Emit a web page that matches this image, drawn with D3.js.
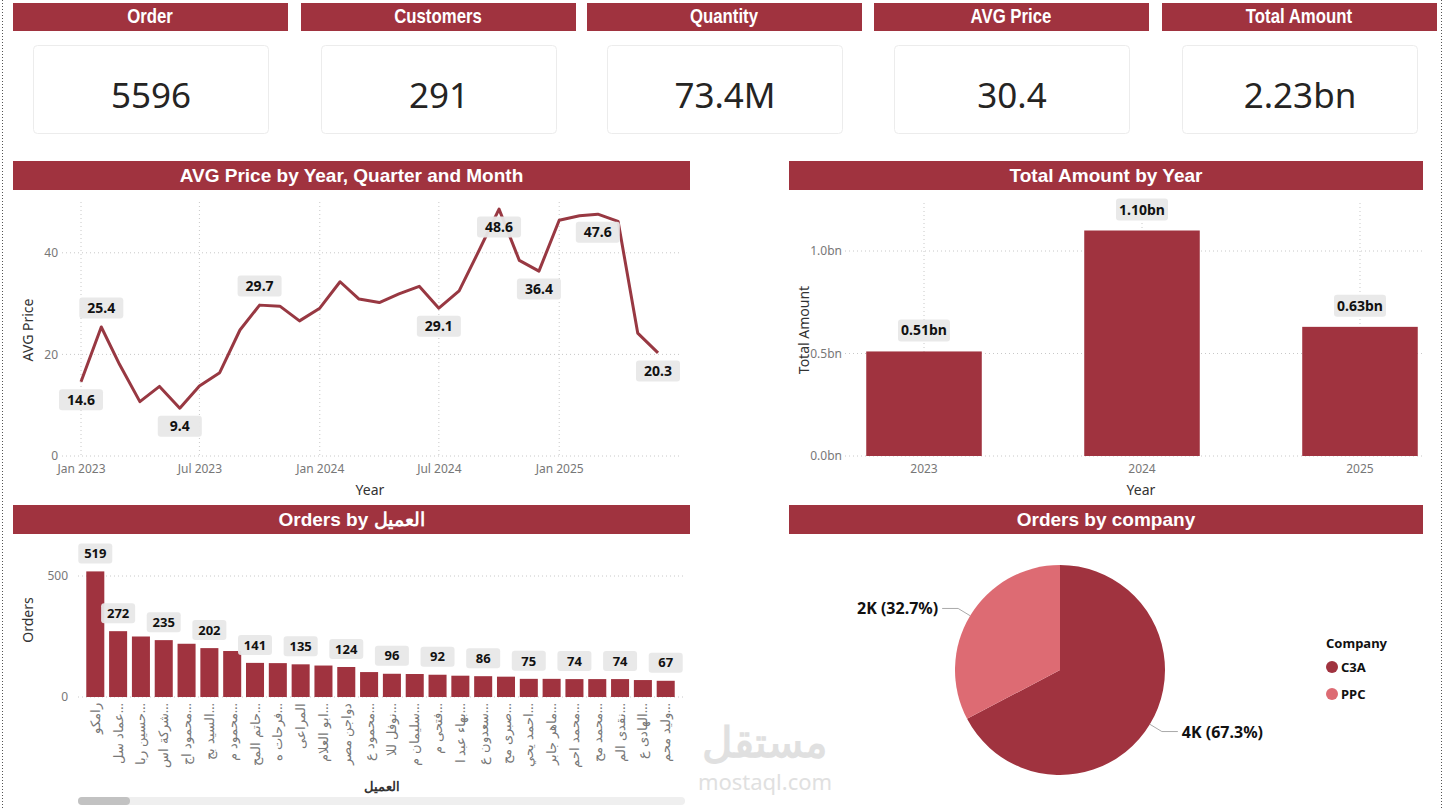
<!DOCTYPE html>
<html>
<head>
<meta charset="utf-8">
<script src="https://cdn.jsdelivr.net/npm/d3@7"></script>
<style>
  body { margin: 0; background: #fff; }
  svg { display: block; font-family: "Noto Sans", "Open Sans", sans-serif; }
</style>
</head>
<body>
<svg id="dash" width="1450" height="810"></svg>
<script>
// ---- data ----
const kpiTitles = ["Order", "Customers", "Quantity", "AVG Price", "Total Amount"];
const kpiValues = ["5596", "291", "73.4M", "30.4", "2.23bn"];

// monthly avg price, Jan 2023 .. Jun 2025
const avgPrice = [14.6, 25.4, 18.0, 10.7, 13.7, 9.4, 13.8, 16.4, 24.8, 29.7, 29.5, 26.6,
                  29.1, 34.3, 30.9, 30.2, 31.9, 33.4, 29.1, 32.5, 40.6, 48.6, 38.5, 36.4,
                  46.4, 47.3, 47.6, 46.2, 24.2, 20.3];
const priceLabelIdx = [0, 1, 5, 9, 18, 21, 23, 26, 29];
const priceLabelAbove = [1, 9];
const priceTicks = ["2023-01", "2023-07", "2024-01", "2024-07", "2025-01"];

const years = ["2023", "2024", "2025"];
const totalAmount = [0.51, 1.10, 0.63]; // bn

const customers = ["رامكو", "عماد سل…", "حسين ربا…", "شركة اس…", "محمود اج…", "السيد بج…",
  "محمود م…", "حاتم المح…", "فرحات ه…", "المراعى", "ابو العلام…", "دواجن مصر",
  "محمود ع…", "نوفل للا…", "سليمان م…", "فتحى م…", "بهاء عبد ا…", "سعدون ع…",
  "صبرى مح…", "احمد يحي…", "ماهر جابر…", "محمد احم…", "محمد مح…", "نقدى الم…",
  "الهادى ع…", "وليد محم…"];
const customerOrders = [519, 272, 250, 235, 220, 202, 190, 141, 140, 135, 130, 124,
  103, 96, 95, 92, 88, 86, 84, 75, 75, 74, 74, 74, 70, 67];
const companies = ["C3A", "PPC"];
const companyOrders = [3766, 1830];
const companyLabels = ["4K (67.3%)", "2K (32.7%)"];

// ---- style ----
const RED = "#a0333f";
const LINE = "#983842";
const PINK = "#dd6b73";
const TICK = "#777";
const svg = d3.select("#dash");

// page frame (dotted)
svg.append("line").attr("x1", 2.5).attr("x2", 2.5).attr("y1", 0).attr("y2", 810)
  .attr("stroke", "#555").attr("stroke-dasharray", "1,2");
svg.append("line").attr("x1", 1441.5).attr("x2", 1441.5).attr("y1", 0).attr("y2", 810)
  .attr("stroke", "#555").attr("stroke-dasharray", "1,2");

// ---- KPI row ----
const headX = [13, 301, 587, 874, 1162];
const cardX = [33, 321, 607, 894, 1182];
kpiTitles.forEach((t, i) => {
  svg.append("rect").attr("x", headX[i]).attr("y", 3).attr("width", 275).attr("height", 28)
    .attr("fill", RED);
  svg.append("text").attr("transform", `translate(${headX[i] + 137},23) scale(0.84,1)`)
    .attr("text-anchor", "middle")
    .attr("fill", "#fff").attr("font-weight", "bold").attr("font-size", "20px")
    .style("font-family", "'Liberation Sans', Arial, sans-serif")
    .text(t);
  svg.append("rect").attr("x", cardX[i] + 0.5).attr("y", 45.5).attr("width", 235).attr("height", 88)
    .attr("rx", 4).attr("fill", "#fff").attr("stroke", "#ececec");
  svg.append("text").attr("x", cardX[i] + 118).attr("y", 108).attr("text-anchor", "middle")
    .attr("fill", "#252423").attr("font-size", "35px").text(kpiValues[i]);
});

function titleBar(x, y, w, text) {
  svg.append("rect").attr("x", x).attr("y", y).attr("width", w).attr("height", 29).attr("fill", RED);
  svg.append("text").attr("x", x + w / 2).attr("y", y + 21).attr("text-anchor", "middle")
    .attr("fill", "#fff").attr("font-weight", "bold").attr("font-size", "19px")
    .style("font-family", "'Liberation Sans', Arial, sans-serif").text(text);
}

function labelBox(g, x, y, text, w, h, fs) {
  g.append("rect").attr("x", x - w / 2).attr("y", y - h / 2).attr("width", w).attr("height", h)
    .attr("rx", 3).attr("fill", "#e8e8e8").attr("opacity", 0.95);
  g.append("text").attr("x", x).attr("y", y + fs * 0.36).attr("text-anchor", "middle")
    .attr("font-weight", "bold").attr("font-size", fs + "px").attr("fill", "#111").text(text);
}

function styleAxis(g) {
  g.select(".domain").remove();
  g.selectAll(".tick line").remove();
  g.selectAll(".tick text").attr("fill", TICK).attr("font-size", "12px")
    .style("font-family", "'Noto Sans', sans-serif");
}

// ---- AVG Price line chart ----
titleBar(13, 161, 677, "AVG Price by Year, Quarter and Month");
const months = d3.timeMonth.range(new Date(2023, 0, 1), new Date(2023, 0 + avgPrice.length, 1));
const xT = d3.scaleTime().domain([months[0], months[months.length - 1]]).range([81, 658]);
const yP = d3.scaleLinear().domain([0, 50]).range([456, 202]);
const parseM = d3.timeParse("%Y-%m");
const tickDates = priceTicks.map(parseM);

const gl = svg.append("g");
gl.selectAll(".hg").data([0, 20, 40]).join("line")
  .attr("x1", 62).attr("x2", 680).attr("y1", d => yP(d)).attr("y2", d => yP(d))
  .attr("stroke", "#c8c8c8").attr("stroke-dasharray", "1,3");
gl.selectAll(".vg").data(tickDates).join("line")
  .attr("x1", d => xT(d)).attr("x2", d => xT(d)).attr("y1", 202).attr("y2", 456)
  .attr("stroke", "#c8c8c8").attr("stroke-dasharray", "1,3");

svg.append("g").attr("transform", "translate(62,0)")
  .call(d3.axisLeft(yP).tickValues([0, 20, 40]).tickSize(0).tickPadding(4)).call(styleAxis);
svg.append("g").attr("transform", "translate(0,460)")
  .call(d3.axisBottom(xT).tickValues(tickDates).tickFormat(d3.timeFormat("%b %Y")).tickSize(0).tickPadding(4))
  .call(styleAxis);

svg.append("path").datum(avgPrice)
  .attr("fill", "none").attr("stroke", LINE).attr("stroke-width", 3).attr("stroke-linejoin", "round")
  .attr("d", d3.line().x((d, i) => xT(months[i])).y(d => yP(d)));

const plab = svg.append("g");
priceLabelIdx.forEach(i => {
  const up = priceLabelAbove.includes(i);
  labelBox(plab, xT(months[i]), yP(avgPrice[i]) + (up ? -19 : 18), avgPrice[i].toFixed(1), 44, 21, 14);
});

svg.append("text").attr("transform", "translate(33,330) rotate(-90)").attr("text-anchor", "middle")
  .attr("font-size", "14px").attr("fill", "#333").text("AVG Price");
svg.append("text").attr("x", 370).attr("y", 495).attr("text-anchor", "middle")
  .attr("font-size", "14px").attr("fill", "#333").text("Year");

// ---- Total Amount by Year ----
titleBar(789, 161, 634, "Total Amount by Year");
const xY = d3.scaleBand().domain(years).range([856, 1428]).paddingInner(0.47).paddingOuter(0.047);
const yA = d3.scaleLinear().domain([0, 1.2]).range([456, 210]);
const ga = svg.append("g");
ga.selectAll(".hg").data([0, 0.5, 1.0]).join("line")
  .attr("x1", 845).attr("x2", 1425).attr("y1", d => yA(d)).attr("y2", d => yA(d))
  .attr("stroke", "#c8c8c8").attr("stroke-dasharray", "1,3");
ga.selectAll(".vg").data(years).join("line")
  .attr("x1", d => xY(d) + xY.bandwidth() / 2).attr("x2", d => xY(d) + xY.bandwidth() / 2)
  .attr("y1", 203).attr("y2", 456).attr("stroke", "#c8c8c8").attr("stroke-dasharray", "1,3");
ga.selectAll(".bar").data(years).join("rect")
  .attr("x", d => xY(d)).attr("width", xY.bandwidth())
  .attr("y", (d, i) => yA(totalAmount[i])).attr("height", (d, i) => yA(0) - yA(totalAmount[i]))
  .attr("fill", RED);
years.forEach((y, i) => {
  labelBox(ga, xY(y) + xY.bandwidth() / 2, yA(totalAmount[i]) - 21, totalAmount[i].toFixed(2) + "bn", 52, 22, 14);
});
svg.append("g").attr("transform", "translate(842,0)")
  .call(d3.axisLeft(yA).tickValues([0, 0.5, 1.0]).tickFormat(d => d.toFixed(1) + "bn").tickSize(0).tickPadding(0))
  .call(styleAxis);
svg.append("g").attr("transform", "translate(0,460)")
  .call(d3.axisBottom(xY).tickSize(0).tickPadding(4)).call(styleAxis);
svg.append("text").attr("transform", "translate(809,330) rotate(-90)").attr("text-anchor", "middle")
  .attr("font-size", "14px").attr("fill", "#333").text("Total Amount");
svg.append("text").attr("x", 1141).attr("y", 495).attr("text-anchor", "middle")
  .attr("font-size", "14px").attr("fill", "#333").text("Year");

// ---- Orders by customer ----
titleBar(13, 505, 677, "Orders by العميل");
const xC = d3.scaleBand().domain(customers).range([84, 677]).paddingInner(0.21).paddingOuter(0.1);
const yC = d3.scaleLinear().domain([0, 500]).range([697, 576]);
const gc = svg.append("g");
gc.selectAll(".hg").data([0, 500]).join("line")
  .attr("x1", 78).attr("x2", 685).attr("y1", d => yC(d)).attr("y2", d => yC(d))
  .attr("stroke", "#c8c8c8").attr("stroke-dasharray", "1,3");
gc.selectAll(".bar").data(customers).join("rect")
  .attr("x", d => xC(d)).attr("width", xC.bandwidth())
  .attr("y", (d, i) => yC(customerOrders[i])).attr("height", (d, i) => yC(0) - yC(customerOrders[i]))
  .attr("fill", RED);
customers.forEach((c, i) => {
  if (i === 0 || i % 2 === 1) {
    labelBox(gc, xC(c) + xC.bandwidth() / 2, yC(customerOrders[i]) - 18, String(customerOrders[i]), 34, 20, 13);
  }
});
svg.append("g").attr("transform", "translate(68,0)")
  .call(d3.axisLeft(yC).tickValues([0, 500]).tickSize(0).tickPadding(0)).call(styleAxis);
const cax = svg.append("g").attr("transform", "translate(0,703)")
  .call(d3.axisBottom(xC).tickSize(0).tickPadding(0)).call(styleAxis);
cax.selectAll(".tick text").attr("font-size", "13px")
  .attr("text-anchor", "end").attr("transform", "rotate(-90)").attr("x", 0).attr("y", 0).attr("dy", "0.35em");
svg.append("text").attr("transform", "translate(33,620) rotate(-90)").attr("text-anchor", "middle")
  .attr("font-size", "14px").attr("fill", "#333").text("Orders");
svg.append("text").attr("x", 382).attr("y", 791).attr("text-anchor", "middle")
  .attr("font-size", "13px").attr("font-weight", "bold").attr("fill", "#333").text("العميل");
// scrollbar
svg.append("rect").attr("x", 78).attr("y", 797).attr("width", 607).attr("height", 8).attr("rx", 4).attr("fill", "#efefef");
svg.append("rect").attr("x", 78).attr("y", 797).attr("width", 52).attr("height", 8).attr("rx", 4).attr("fill", "#c2c2c2");

// ---- Orders by company (pie) ----
titleBar(789, 505, 634, "Orders by company");
const pieColor = d3.scaleOrdinal().domain(companies).range([RED, PINK]);
const pie = d3.pie().sort(null).value((d, i) => companyOrders[i]);
const arcs = pie(companies);
const R = 105;
const arc = d3.arc().innerRadius(0).outerRadius(R);
const gp = svg.append("g").attr("transform", "translate(1060,670)");
gp.selectAll("path").data(arcs).join("path").attr("d", arc).attr("fill", d => pieColor(d.data));
arcs.forEach((a, i) => {
  const m = (a.startAngle + a.endAngle) / 2;
  const sx = Math.sin(m), sy = -Math.cos(m);
  const p0 = [sx * R, sy * R];
  const p1 = [sx * (R + 14), sy * (R + 14)];
  const right = sx > 0;
  const p2 = [p1[0] + (right ? 16 : -16), p1[1]];
  gp.append("polyline").attr("points", [p0, p1, p2].map(p => p.join(",")).join(" "))
    .attr("fill", "none").attr("stroke", "#aaa").attr("stroke-width", 1);
  gp.append("text").attr("x", p2[0] + (right ? 4 : -4)).attr("y", p2[1] + 6)
    .attr("text-anchor", right ? "start" : "end").attr("font-weight", "bold").attr("font-size", "16px")
    .attr("fill", "#111").text(companyLabels[i]);
});
svg.append("text").attr("x", 1326).attr("y", 648).attr("font-weight", "bold").attr("font-size", "13px")
  .attr("fill", "#111").text("Company");
companies.forEach((c, i) => {
  svg.append("circle").attr("cx", 1332).attr("cy", 667 + i * 27).attr("r", 6).attr("fill", pieColor(c));
  svg.append("text").attr("x", 1341).attr("y", 672 + i * 27).attr("font-weight", "bold")
    .attr("font-size", "13px").attr("fill", "#111").text(c);
});

// watermark
svg.append("text").attr("x", 765).attr("y", 757).attr("text-anchor", "middle").attr("font-size", "42px")
  .attr("font-weight", "bold").attr("fill", "#d9d9d9").attr("opacity", 0.8).text("مستقل");
svg.append("text").attr("x", 765).attr("y", 790).attr("text-anchor", "middle").attr("font-size", "22px")
  .attr("fill", "#d9d9d9").attr("opacity", 0.8).text("mostaql.com");
</script>
</body>
</html>
